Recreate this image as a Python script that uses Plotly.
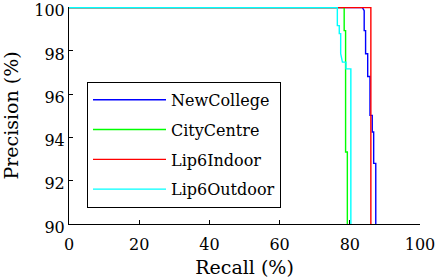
import plotly.graph_objects as go

# Data (recall %, precision %)
nc_recall = [0, 83.6, 84.1, 84.1, 84.5, 84.5, 85.1, 85.1, 85.75, 85.75, 86.4, 86.4, 86.8, 86.8, 87.4, 87.4]
nc_prec = [100, 100, 99.86, 98.94, 98.94, 97.87, 97.87, 96.82, 96.82, 95.02, 95.02, 94.25, 94.25, 92.8, 92.8, 89]

cc_recall = [0, 78.4, 78.4, 78.8, 78.8, 79.3, 79.3]
cc_prec = [100, 100, 98.94, 98.94, 93.33, 93.33, 89]

li_recall = [0, 86.0, 86.0]
li_prec = [100, 100, 89]

lo_recall = [0, 76.45, 76.45, 77.0, 77.0, 77.4, 77.4, 77.9, 78.9, 78.9, 80.3, 80.3]
lo_prec = [100, 100, 99.17, 99.17, 98.8, 98.8, 97.87, 97.48, 97.48, 97.17, 97.17, 89]

names = ["NewCollege", "CityCentre", "Lip6Indoor", "Lip6Outdoor"]
colors = ["#0000ff", "#00ff00", "#ff0000", "#00ffff"]
series = [(nc_recall, nc_prec), (cc_recall, cc_prec), (li_recall, li_prec), (lo_recall, lo_prec)]
x_ticks = [0, 20, 40, 60, 80, 100]
y_ticks = [90, 92, 94, 96, 98, 100]

FONT = "DejaVu Serif"

fig = go.Figure()
for name, col, (rx, py) in zip(names, colors, series):
    fig.add_trace(go.Scatter(x=rx, y=py, mode="lines", name=name,
                             line=dict(color=col, width=1.4), legendgroup=name))

axis_common = dict(ticks="inside", ticklen=4, tickcolor="black", showline=True,
                   linecolor="black", linewidth=1, showgrid=False, zeroline=False,
                   mirror=False, automargin=False, ticklabeloverflow="allow",
                   tickfont=dict(family=FONT, size=16, color="black"))

fig.update_layout(
    width=436, height=280,
    margin=dict(l=69, r=16, t=7, b=56),
    paper_bgcolor="white", plot_bgcolor="white",
    font=dict(family=FONT, size=16, color="black"),
    showlegend=True,
    legend=dict(x=0.0513, y=0.655, xanchor="left", yanchor="top",
                bgcolor="white", bordercolor="black", borderwidth=1,
                font=dict(family=FONT, size=16, color="black"),
                tracegroupgap=6, itemwidth=73),
    xaxis=dict(range=[0, 100], tickmode="array", tickvals=x_ticks,
               ticklabelstandoff=6,
               title=dict(text="Recall (%)", standoff=7), **axis_common),
    yaxis=dict(range=[90, 100.03], tickmode="array", tickvals=y_ticks,
               ticklabelshift=3,
               title=dict(text="Precision (%)", standoff=15), **axis_common),
)

fig.write_html("out.html", config={"displayModeBar": False},
               post_script="document.body.style.margin='0';")
